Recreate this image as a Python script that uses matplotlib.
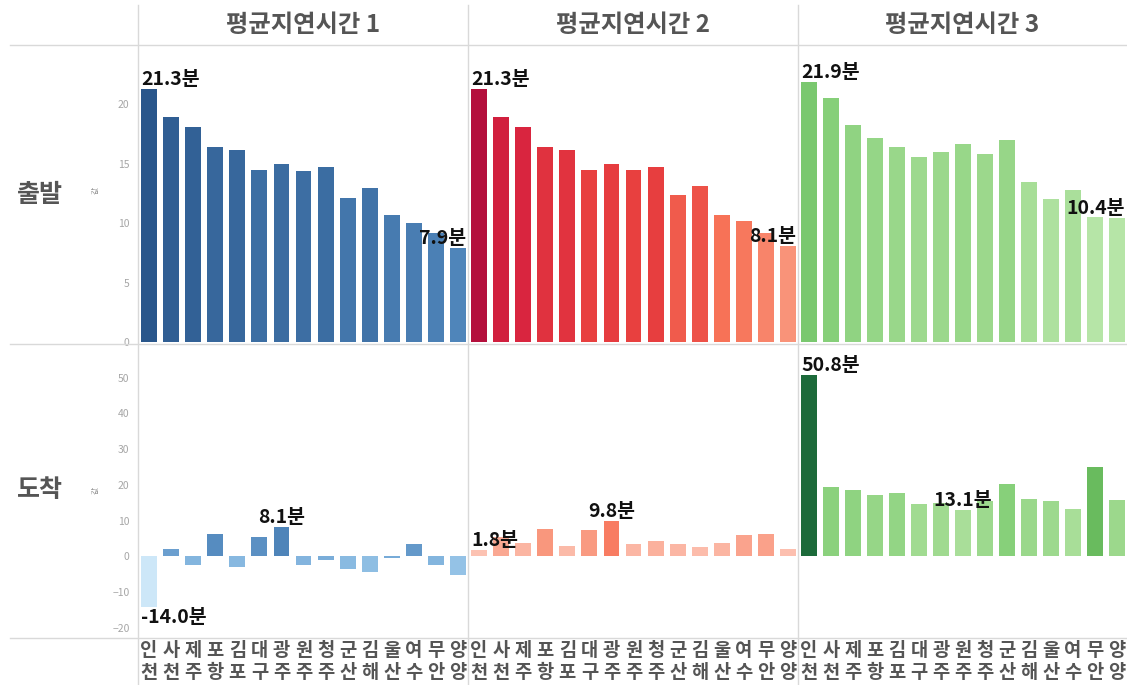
import matplotlib
matplotlib.use("Agg")
import matplotlib.pyplot as plt
import matplotlib.transforms as mtransforms
from matplotlib.colors import LinearSegmentedColormap, Normalize
from matplotlib.lines import Line2D
import numpy as np

plt.rcParams['font.family'] = ['Noto Sans CJK KR', 'DejaVu Sans']

cities = ['인천', '사천', '제주', '포항', '김포', '대구', '광주', '원주',
          '청주', '군산', '김해', '울산', '여수', '무안', '양양']
col_titles = ['평균지연시간 1', '평균지연시간 2', '평균지연시간 3']
row_titles = ['출발', '도착']

dep1 = [21.3, 18.9, 18.1, 16.4, 16.2, 14.5, 15.0, 14.4, 14.7, 12.1, 13.0, 10.7, 10.0, 9.2, 7.9]
dep2 = [21.3, 18.9, 18.1, 16.4, 16.2, 14.5, 15.0, 14.5, 14.7, 12.4, 13.1, 10.7, 10.2, 9.2, 8.1]
dep3 = [21.9, 20.5, 18.3, 17.2, 16.4, 15.6, 16.0, 16.7, 15.8, 17.0, 13.5, 12.0, 12.8, 10.5, 10.4]
arr1 = [-14.0, 2.0, -2.5, 6.4, -3.0, 5.4, 8.1, -2.3, -0.9, -3.5, -4.3, -0.4, 3.5, -2.5, -5.2]
arr2 = [1.8, 5.5, 3.7, 7.8, 3.0, 7.4, 9.8, 3.4, 4.2, 3.4, 2.7, 3.7, 6.1, 6.4, 2.2]
arr3 = [50.8, 19.4, 18.6, 17.1, 17.7, 14.7, 14.9, 13.1, 15.5, 20.3, 16.2, 15.6, 13.3, 24.9, 15.9]

top_ticks = [0, 5, 10, 15, 20]
bot_ticks = [-20, -10, 0, 10, 20, 30, 40, 50]

data = [[dep1, dep2, dep3], [arr1, arr2, arr3]]

cmaps = [
    LinearSegmentedColormap.from_list('b', [(0.0, '#cde7f8'), (0.25, '#93c2e6'),
                                            (0.4, '#74a8d6'), (0.62, '#4f85ba'),
                                            (1.0, '#29568b')]),
    LinearSegmentedColormap.from_list('r', [(0.0, '#fcc2b2'), (0.3, '#f9987f'),
                                            (0.45, '#f77358'), (0.65, '#e8403f'),
                                            (0.85, '#d8233f'), (1.0, '#b40f3c')]),
    LinearSegmentedColormap.from_list('g', [(0.0, '#b6e5a7'), (0.1, '#a2db92'),
                                            (0.25, '#86cf79'), (0.3, '#74c46a'),
                                            (0.36, '#68ba5d'), (1.0, '#1c6a3a')]),
]

W, H = 1127, 685
fig = plt.figure(figsize=(W / 100, H / 100), dpi=100)
fig.patch.set_facecolor('white')

col_x = [138, 468, 798]
col_w = [330, 330, 329]
rows_px = [(45, 342), (344, 638)]
ylims = [(0, 25), (-22.8, 59.4)]
grey_line = '#d9d9d9'

def fx(px):
    return px / W

def fy(py):
    return 1 - py / H

x = np.arange(len(cities))
for c in range(3):
    allv = np.array(data[0][c] + data[1][c])
    norm = Normalize(allv.min(), allv.max())
    for r in range(2):
        y0, y1 = rows_px[r]
        ax = fig.add_axes([fx(col_x[c]), fy(y1), fx(col_w[c]), (y1 - y0) / H])
        vals = np.array(data[r][c])
        cols = [cmaps[c](norm(v)) for v in vals]
        ax.bar(x, vals, width=0.72, color=cols)
        ax.set_xlim(-0.5, 14.45)
        ax.set_ylim(*ylims[r])
        for s in ax.spines.values():
            s.set_visible(False)
        ax.set_xticks([])
        if c == 0:
            ax.set_yticks(top_ticks if r == 0 else bot_ticks)
            ax.tick_params(axis='y', length=0, pad=6, labelsize=7.5, labelcolor='#a6a6a6')
        else:
            ax.set_yticks([])
        # max / min labels
        for idx in (int(np.argmax(vals)), int(np.argmin(vals))):
            v = vals[idx]
            if idx == 0:
                ha, xo = 'left', idx - 0.36
            elif idx == len(vals) - 1:
                ha, xo = 'right', idx + 0.36
            else:
                ha, xo = 'center', idx
            if v >= 0:
                ax.annotate(f'{v:.1f}분', (xo, v), xytext=(0, 0), textcoords='offset points',
                            ha=ha, va='bottom', fontsize=14, fontweight='bold', color='#111111',
                            annotation_clip=False)
            else:
                ax.annotate(f'{v:.1f}분', (xo, v), xytext=(0, -1), textcoords='offset points',
                            ha=ha, va='top', fontsize=14, fontweight='bold', color='#111111',
                            annotation_clip=False)
        if r == 1:
            tr = mtransforms.blended_transform_factory(ax.transData, fig.transFigure)
            for i, name in enumerate(cities):
                ax.text(i, fy(651), name[0], transform=tr, ha='center', va='center',
                        fontsize=13.5, fontweight='bold', color='#555555')
                ax.text(i, fy(673), name[1], transform=tr, ha='center', va='center',
                        fontsize=13.5, fontweight='bold', color='#555555')
    fig.text(fx(col_x[c] + col_w[c] / 2), fy(25), col_titles[c], ha='center', va='center',
             fontsize=17.5, fontweight='bold', color='#555555')

# row headers
fig.text(fx(40), fy(195), row_titles[0], ha='center', va='center', fontsize=18,
         fontweight='bold', color='#555555')
fig.text(fx(40), fy(490), row_titles[1], ha='center', va='center', fontsize=18,
         fontweight='bold', color='#555555')
for yc in (190, 490):
    fig.text(fx(96), fy(yc), '값', ha='center', va='center', fontsize=5.5,
             rotation=90, color='#888888')

# grid lines
for xp in (138, 468, 798):
    fig.add_artist(Line2D([fx(xp), fx(xp)], [fy(5), fy(685)], color=grey_line, lw=1))
for yp in (45, 344, 638):
    fig.add_artist(Line2D([fx(10), fx(1127)], [fy(yp), fy(yp)], color=grey_line, lw=1))

fig.savefig('out.png', dpi=100, facecolor='white')
